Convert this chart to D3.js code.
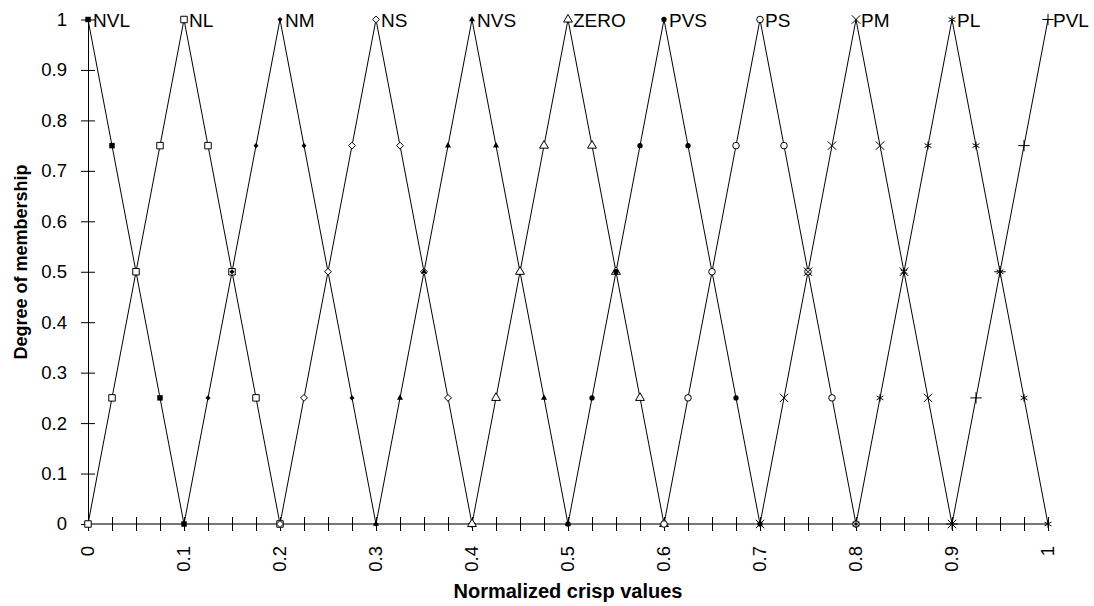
<!DOCTYPE html>
<html>
<head>
<meta charset="utf-8">
<script src="https://cdn.jsdelivr.net/npm/d3@7"></script>
<style>
  body { margin: 0; background: #fff; }
  svg { display: block; font-family: "Liberation Sans", Arial, sans-serif; }
</style>
</head>
<body>
<svg id="chart" width="1094" height="606"></svg>
<script>
// membership function names (peak labels)
const categories = ["NVL", "NL", "NM", "NS", "NVS", "ZERO", "PVS", "PS", "PM", "PL", "PVL"];

// x positions of each series' points
const nvlX = [0, 0.025, 0.05, 0.075, 0.1];
const nlX = [0, 0.025, 0.05, 0.075, 0.1, 0.125, 0.15, 0.175, 0.2];
const nmX = [0.1, 0.125, 0.15, 0.175, 0.2, 0.225, 0.25, 0.275, 0.3];
const nsX = [0.2, 0.225, 0.25, 0.275, 0.3, 0.325, 0.35, 0.375, 0.4];
const nvsX = [0.3, 0.325, 0.35, 0.375, 0.4, 0.425, 0.45, 0.475, 0.5];
const zeroX = [0.4, 0.425, 0.45, 0.475, 0.5, 0.525, 0.55, 0.575, 0.6];
const pvsX = [0.5, 0.525, 0.55, 0.575, 0.6, 0.625, 0.65, 0.675, 0.7];
const psX = [0.6, 0.625, 0.65, 0.675, 0.7, 0.725, 0.75, 0.775, 0.8];
const pmX = [0.7, 0.725, 0.75, 0.775, 0.8, 0.825, 0.85, 0.875, 0.9];
const plX = [0.8, 0.825, 0.85, 0.875, 0.9, 0.925, 0.95, 0.975, 1];
const pvlX = [0.9, 0.925, 0.95, 0.975, 1];

// degree of membership at those points
const nvlY = [1, 0.75, 0.5, 0.25, 0];
const nlY = [0, 0.25, 0.5, 0.75, 1, 0.75, 0.5, 0.25, 0];
const nmY = [0, 0.25, 0.5, 0.75, 1, 0.75, 0.5, 0.25, 0];
const nsY = [0, 0.25, 0.5, 0.75, 1, 0.75, 0.5, 0.25, 0];
const nvsY = [0, 0.25, 0.5, 0.75, 1, 0.75, 0.5, 0.25, 0];
const zeroY = [0, 0.25, 0.5, 0.75, 1, 0.75, 0.5, 0.25, 0];
const pvsY = [0, 0.25, 0.5, 0.75, 1, 0.75, 0.5, 0.25, 0];
const psY = [0, 0.25, 0.5, 0.75, 1, 0.75, 0.5, 0.25, 0];
const pmY = [0, 0.25, 0.5, 0.75, 1, 0.75, 0.5, 0.25, 0];
const plY = [0, 0.25, 0.5, 0.75, 1, 0.75, 0.5, 0.25, 0];
const pvlY = [0, 0.25, 0.5, 0.75, 1];

// peak position of each label
const peaks = [0, 0.1, 0.2, 0.3, 0.4, 0.5, 0.6, 0.7, 0.8, 0.9, 1];

// tick labels
const xTickLabels = [0, 0.1, 0.2, 0.3, 0.4, 0.5, 0.6, 0.7, 0.8, 0.9, 1];
const yTickLabels = [0, 0.1, 0.2, 0.3, 0.4, 0.5, 0.6, 0.7, 0.8, 0.9, 1];

const seriesX = [nvlX, nlX, nmX, nsX, nvsX, zeroX, pvsX, psX, pmX, plX, pvlX];
const seriesY = [nvlY, nlY, nmY, nsY, nvsY, zeroY, pvsY, psY, pmY, plY, pvlY];

// marker style per series
const markers = [
  { type: d3.symbolSquare, size: 30, fill: "#000", stroke: "none" },
  { type: d3.symbolSquare, size: 42, fill: "#fff", stroke: "#000" },
  { type: d3.symbolDiamond2, size: 16, fill: "#000", stroke: "none" },
  { type: d3.symbolDiamond2, size: 30, fill: "#fff", stroke: "#000" },
  { type: d3.symbolTriangle, size: 16, fill: "#000", stroke: "none" },
  { type: d3.symbolTriangle, size: 34, fill: "#fff", stroke: "#000" },
  { type: d3.symbolCircle, size: 22, fill: "#000", stroke: "none" },
  { type: d3.symbolCircle, size: 34, fill: "#fff", stroke: "#000" },
  { type: d3.symbolTimes, size: 48, fill: "none", stroke: "#000" },
  { type: d3.symbolAsterisk, size: 44, fill: "none", stroke: "#000" },
  { type: d3.symbolPlus, size: 44, fill: "none", stroke: "#000" }
];

const svg = d3.select("#chart");

const x = d3.scaleLinear().domain([0, 1]).range([88, 1048]);
const y = d3.scaleLinear().domain([0, 1]).range([524, 19.5]);

// Y axis
const yAxis = svg.append("g")
  .attr("transform", "translate(88,0)")
  .call(d3.axisLeft(y).tickValues(yTickLabels).tickSize(7).tickPadding(14)
    .tickFormat(d => String(+d.toFixed(1))));
yAxis.select(".domain").attr("d", "M0.5," + y(1) + "V" + y(0)).attr("stroke", "#000");
yAxis.selectAll(".tick line").attr("x1", -7).attr("x2", 7).attr("stroke", "#000");
yAxis.selectAll(".tick text").style("font-size", "18.5px").attr("fill", "#000")
  .attr("font-family", "Liberation Sans, Arial, sans-serif");

// X axis with minor ticks every 0.025
const xTicks = d3.range(0, 1.0001, 0.025);
const xAxis = svg.append("g")
  .attr("transform", "translate(0,524)")
  .call(d3.axisBottom(x).tickValues(xTicks).tickSize(7).tickFormat(""));
xAxis.select(".domain").attr("d", "M" + x(0) + ",0H" + x(1)).attr("stroke", "#777").attr("stroke-width", 2);
xAxis.selectAll(".tick line").attr("y1", -7).attr("y2", 7).attr("stroke", "#000");

svg.append("g").selectAll("text")
  .data(xTickLabels)
  .join("text")
  .attr("transform", d => "translate(" + x(d) + ",546) rotate(-90)")
  .attr("text-anchor", "end")
  .attr("dy", "0.35em")
  .style("font-size", "18.5px")
  .text(d => String(d));

// axis titles
svg.append("text")
  .attr("x", 568).attr("y", 598)
  .attr("text-anchor", "middle")
  .style("font-size", "20px").style("font-weight", "bold")
  .text("Normalized crisp values");

svg.append("text")
  .attr("transform", "translate(27,262) rotate(-90)")
  .attr("text-anchor", "middle")
  .style("font-size", "18px").style("font-weight", "bold")
  .text("Degree of membership");

// lines
const line = d3.line().x(d => x(d[0])).y(d => y(d[1]));
seriesX.forEach((xs, i) => {
  const pts = xs.map((v, j) => [v, seriesY[i][j]]);
  svg.append("path")
    .datum(pts)
    .attr("d", line)
    .attr("fill", "none")
    .attr("stroke", "#000")
    .attr("stroke-width", 1);
});

// markers
seriesX.forEach((xs, i) => {
  const m = markers[i];
  const pts = xs.map((v, j) => [v, seriesY[i][j]]);
  svg.append("g").selectAll("path")
    .data(pts)
    .join("path")
    .attr("transform", d => "translate(" + x(d[0]) + "," + y(d[1]) + ")")
    .attr("d", d3.symbol().type(m.type).size(m.size))
    .attr("fill", m.fill)
    .attr("stroke", m.stroke)
    .attr("stroke-width", 1);
});

// peak labels
svg.append("g").selectAll("text")
  .data(categories)
  .join("text")
  .attr("x", (d, i) => x(peaks[i]) + 5)
  .attr("y", y(1))
  .attr("dy", "0.4em")
  .style("font-size", "19px")
  .text(d => d);
</script>
</body>
</html>
